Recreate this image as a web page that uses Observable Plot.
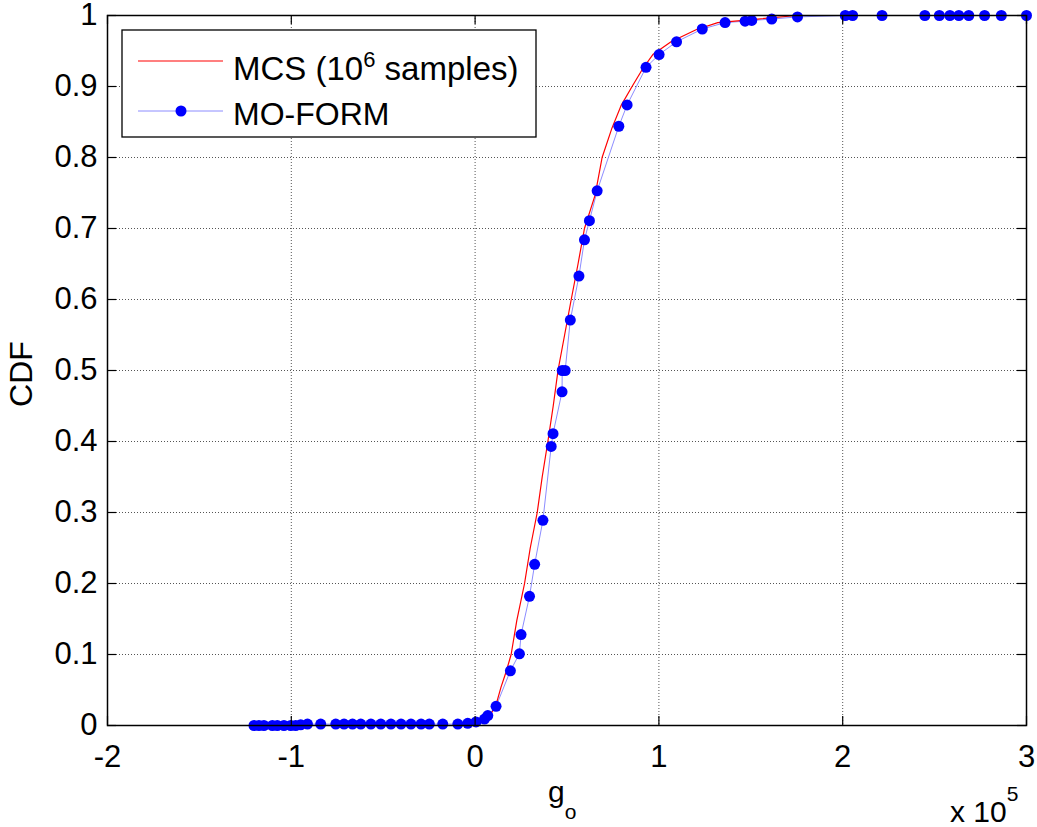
<!DOCTYPE html>
<html><head><meta charset="utf-8">
<script src="https://cdn.jsdelivr.net/npm/d3@7"></script>
<script src="https://cdn.jsdelivr.net/npm/@observablehq/plot@0.6"></script>
<style>
body{margin:0;background:#fff;}
#wrap{position:relative;width:1037px;height:827px;}
#overlay{position:absolute;left:0;top:0;pointer-events:none;}
</style></head><body><div id="wrap"></div>
<script>
// x values in units of 10^5
const xTicks = [-2, -1, 0, 1, 2, 3];
const yTicks = [0, 0.1, 0.2, 0.3, 0.4, 0.5, 0.6, 0.7, 0.8, 0.9, 1];

// MCS (10^6 samples) empirical CDF
const mcsX = [-1.2, -0.05, 0, 0.03, 0.06, 0.09, 0.115, 0.141, 0.168, 0.196, 0.227, 0.269, 0.3, 0.338, 0.365, 0.396, 0.425, 0.451, 0.487, 0.523, 0.56, 0.595, 0.653, 0.691, 0.744, 0.794, 0.854, 0.912, 0.967, 1.066, 1.202, 1.32, 1.538, 1.75, 3.0];
const mcsY = [0, 0, 0.002, 0.005, 0.01, 0.018, 0.03, 0.054, 0.075, 0.1, 0.148, 0.2, 0.25, 0.3, 0.35, 0.4, 0.45, 0.5, 0.55, 0.6, 0.65, 0.7, 0.747, 0.8, 0.841, 0.873, 0.9, 0.925, 0.945, 0.963, 0.98, 0.99, 0.995, 1, 1];

// MO-FORM
const formX = [-1.203, -1.176, -1.149, -1.103, -1.076, -1.04, -1.003, -0.976, -0.949, -0.912, -0.84, -0.758, -0.713, -0.667, -0.622, -0.567, -0.513, -0.458, -0.403, -0.349, -0.294, -0.249, -0.176, -0.094, -0.04, 0.005, 0.051, 0.069, 0.114, 0.192, 0.241, 0.25, 0.296, 0.324, 0.369, 0.414, 0.424, 0.473, 0.474, 0.49, 0.518, 0.565, 0.595, 0.622, 0.664, 0.782, 0.827, 0.93, 1.001, 1.096, 1.236, 1.36, 1.469, 1.505, 1.614, 1.754, 2.014, 2.054, 2.214, 2.447, 2.526, 2.583, 2.632, 2.686, 2.772, 2.863, 3.0];
const formY = [0, 0, 0, 0, 0, 0, 0, 0, 0.001, 0.002, 0.002, 0.002, 0.002, 0.002, 0.002, 0.002, 0.002, 0.002, 0.002, 0.002, 0.002, 0.002, 0.002, 0.002, 0.003, 0.005, 0.009, 0.014, 0.027, 0.077, 0.101, 0.128, 0.182, 0.227, 0.289, 0.393, 0.411, 0.470, 0.5, 0.5, 0.571, 0.633, 0.684, 0.711, 0.753, 0.844, 0.874, 0.927, 0.945, 0.963, 0.981, 0.990, 0.992, 0.993, 0.995, 0.998, 1, 1, 1, 1, 1, 1, 1, 1, 1, 1, 1];

const mcs = mcsX.map((x, i) => ({x, y: mcsY[i]}));
const form = formX.map((x, i) => ({x, y: formY[i]}));

const W = 1037, H = 827, ML = 107, MR = 11, MT = 15, MB = 102, TL = 9;
const FW = W - ML - MR, FH = H - MT - MB;

const fmt = d => String(d);
const gridStyle = {stroke: "#555", strokeOpacity: 1, strokeDasharray: "1,2", strokeWidth: 1};
const tk = {stroke: "black", strokeWidth: 1.2, strokeOpacity: 1};

const plot = Plot.plot({
  width: W, height: H,
  marginLeft: ML, marginRight: MR, marginTop: MT, marginBottom: MB,
  style: {fontFamily: "'Liberation Sans', Arial, sans-serif", fontSize: "30px", background: "white", color: "black", overflow: "visible"},
  x: {domain: [-2, 3]},
  y: {domain: [0, 1]},
  marks: [
    Plot.gridX(xTicks, gridStyle),
    Plot.gridY(yTicks, gridStyle),
    Plot.line(form, {x: "x", y: "y", stroke: "#8c8cff", strokeWidth: 1}),
    Plot.line(mcs, {x: "x", y: "y", stroke: "#ff0000", strokeWidth: 1.2}),
    Plot.dot(form, {x: "x", y: "y", r: 5.5, fill: "#0000ff", stroke: "none"}),
    Plot.axisX(xTicks, {anchor: "bottom", tickSize: 0, tickPadding: 19, tickFormat: fmt, label: null, fontSize: 31}),
    Plot.axisY(yTicks, {anchor: "left", tickSize: 0, tickPadding: 10, tickFormat: fmt, label: null, fontSize: 31}),
    Plot.tickX(xTicks, {x: d => d, insetTop: FH - TL, ...tk}),
    Plot.tickX(xTicks, {x: d => d, insetBottom: FH - TL, ...tk}),
    Plot.tickY(yTicks, {y: d => d, insetRight: FW - TL, ...tk}),
    Plot.tickY(yTicks, {y: d => d, insetLeft: FW - TL, ...tk}),
    Plot.frame({stroke: "black", strokeWidth: 1.5})
  ]
});

const wrap = document.getElementById("wrap");
wrap.appendChild(plot);

const ns = "http://www.w3.org/2000/svg";
const overlay = document.createElementNS(ns, "svg");
overlay.setAttribute("id", "overlay");
overlay.setAttribute("width", W);
overlay.setAttribute("height", H);
overlay.innerHTML = `
<g font-family="'Liberation Sans', Arial, sans-serif" fill="black">
  <rect x="122" y="30" width="414" height="107" fill="white" stroke="black" stroke-width="1.3"/>
  <line x1="138" x2="223" y1="61" y2="61" stroke="#ff0000" stroke-width="1.2"/>
  <text x="233" y="80" font-size="33">MCS (10<tspan font-size="22" dy="-13">6</tspan><tspan dy="13"> samples)</tspan></text>
  <line x1="138" x2="223" y1="111" y2="111" stroke="#8c8cff" stroke-width="1"/>
  <circle cx="181" cy="111" r="5.5" fill="#0000ff"/>
  <text x="233" y="125" font-size="32">MO-FORM</text>
  <text transform="translate(32,374) rotate(-90)" text-anchor="middle" font-size="32">CDF</text>
  <text x="548" y="802" font-size="30">g<tspan font-size="21" dy="17">o</tspan></text>
  <text x="950" y="822" font-size="30">x 10<tspan font-size="21" dy="-21">5</tspan></text>
</g>`;
wrap.appendChild(overlay);
</script>
</body></html>
